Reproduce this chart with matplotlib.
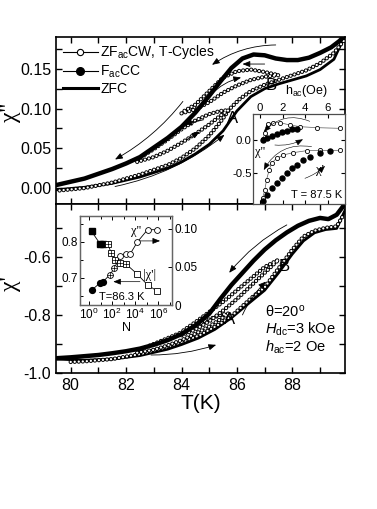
import matplotlib
matplotlib.use('Agg')
import matplotlib.pyplot as plt
from matplotlib.lines import Line2D
from matplotlib.ticker import MultipleLocator, FixedLocator, LogLocator, NullFormatter, FuncFormatter

plt.rcParams['font.family'] = ['Liberation Sans', 'DejaVu Sans']
plt.rcParams['mathtext.fontset'] = 'custom'
plt.rcParams['mathtext.rm'] = 'Liberation Sans'
plt.rcParams['mathtext.it'] = 'Liberation Sans:italic'
plt.rcParams['lines.scale_dashes'] = False

# ---------------- data: chi'' (top panel) ----------------
T_fc2 = [79.5, 80.0, 80.5, 81.0, 81.5, 82.0, 82.5, 83.0, 83.5, 84.0, 84.5, 85.0, 85.4, 85.8,
         86.2, 86.6, 87.0, 87.4, 87.8, 88.2, 88.6, 89.0, 89.4, 89.7, 89.9]
chi2_fc = [0.004, 0.008, 0.012, 0.018, 0.024, 0.031, 0.039, 0.051, 0.063, 0.077, 0.095, 0.116,
           0.134, 0.151, 0.163, 0.168, 0.167, 0.163, 0.161, 0.161, 0.164, 0.170, 0.177, 0.185, 0.192]

T_zfc2 = [79.5, 80.5, 81.5, 82.5, 83.5, 84.0, 84.5, 85.0, 85.5, 86.0, 86.5, 87.0, 87.5, 88.0,
          88.5, 89.0, 89.5, 89.9]
chi2_zfc = [-0.002, 0.001, 0.006, 0.014, 0.025, 0.033, 0.043, 0.055, 0.072, 0.097, 0.115, 0.125,
            0.131, 0.136, 0.141, 0.149, 0.162, 0.192]

T_zfcw2 = [79.6, 80.5, 81.5, 82.5, 83.5, 84.0, 84.5, 85.0, 85.4, 85.75, 86.1, 86.5, 87.0, 87.5,
           88.0, 88.5, 89.0, 89.5, 89.85]
chi2_zfcw = [-0.003, 0.000, 0.007, 0.017, 0.029, 0.038, 0.050, 0.066, 0.083, 0.100, 0.112, 0.122,
             0.130, 0.136, 0.142, 0.148, 0.157, 0.170, 0.185]

T_loopA = [82.4, 83.0, 83.5, 84.0, 84.5, 85.0, 85.4, 85.7, 85.4, 85.0, 84.5, 84.0, 83.5, 83.0, 82.4]
chi2_loopA = [0.033, 0.039, 0.047, 0.057, 0.068, 0.080, 0.091, 0.098, 0.097, 0.093, 0.085, 0.074,
              0.061, 0.049, 0.036]
T_loopB = [84.0, 84.5, 85.0, 85.5, 86.0, 86.5, 87.0, 87.5, 87.0, 86.5, 86.0, 85.5, 85.0, 84.5, 84.0]
chi2_loopB = [0.094, 0.099, 0.108, 0.120, 0.129, 0.136, 0.140, 0.142, 0.146, 0.149, 0.147, 0.139,
              0.122, 0.105, 0.095]

# ---------------- data: chi' (bottom panel) ----------------
T_fc1 = [79.5, 80.0, 80.5, 81.0, 81.5, 82.0, 82.5, 83.0, 83.5, 84.0, 84.5, 85.0, 85.4, 85.8,
         86.2, 86.6, 87.0, 87.4, 87.8, 88.2, 88.6, 89.0, 89.3, 89.6, 89.8, 89.9]
chi1_fc = [-0.949, -0.946, -0.942, -0.938, -0.932, -0.925, -0.916, -0.903, -0.887, -0.866, -0.836,
           -0.796, -0.745, -0.697, -0.655, -0.613, -0.575, -0.543, -0.516, -0.493, -0.476, -0.466,
           -0.470, -0.455, -0.430, -0.415]

T_zfc1 = [79.5, 80.5, 81.5, 82.5, 83.5, 84.0, 84.6, 85.2, 85.8, 86.4, 87.0, 87.5, 88.0, 88.4,
          88.8, 89.2, 89.6, 89.9]
chi1_zfc = [-0.952, -0.956, -0.952, -0.940, -0.918, -0.902, -0.880, -0.850, -0.810, -0.762,
            -0.715, -0.655, -0.590, -0.545, -0.517, -0.506, -0.502, -0.440]

T_zfcw1 = [80.0, 80.5, 81.5, 82.5, 83.5, 84.0, 84.65, 85.4, 85.85, 86.6, 87.0, 87.5, 88.0, 88.4,
           88.8, 89.2, 89.6, 89.85]
chi1_zfcw = [-0.962, -0.960, -0.952, -0.935, -0.910, -0.893, -0.870, -0.830, -0.800, -0.735,
             -0.705, -0.640, -0.575, -0.530, -0.510, -0.500, -0.495, -0.455]

chi1_loopA = [-0.930, -0.920, -0.905, -0.887, -0.865, -0.840, -0.815, -0.795, -0.800, -0.815,
              -0.838, -0.860, -0.880, -0.900, -0.922]
chi1_loopB = [-0.870, -0.850, -0.822, -0.785, -0.745, -0.700, -0.655, -0.610, -0.635, -0.675,
              -0.715, -0.755, -0.790, -0.825, -0.858]

# ---------------- inset 1: h_ac sweeps at 87.5 K ----------------
h_open2 = [0.24, 0.44, 0.74, 1.18, 1.77, 2.65, 3.53, 5.0, 7.06]
chi2_hopen = [0.01, 0.10, 0.235, 0.26, 0.26, 0.225, 0.20, 0.185, 0.175]
h_fill2 = [0.24, 0.59, 1.03, 1.47, 1.91, 2.35, 2.8, 3.24]
chi2_hfill = [0.0, 0.025, 0.06, 0.09, 0.115, 0.14, 0.16, 0.17]
h_open1 = [0.24, 0.44, 0.59, 0.82, 1.03, 1.47, 2.06, 2.94, 4.12, 5.3, 7.06]
chi1_hopen = [-0.875, -0.75, -0.60, -0.45, -0.35, -0.275, -0.225, -0.19, -0.16, -0.155, -0.155]
h_fill1 = [0.24, 0.59, 1.03, 1.47, 1.91, 2.35, 2.8, 3.24, 3.8, 4.4, 5.3, 6.18]
chi1_hfill = [-0.92, -0.825, -0.725, -0.65, -0.575, -0.50, -0.425, -0.375, -0.30, -0.25, -0.20, -0.16]

# ---------------- inset 2: vs number of cycles N at 86.3 K ----------------
N_sq_fill = [1.7, 9, 15]
absc1_sq_fill = [0.829, 0.795, 0.795]
N_sq_cross = [45, 82, 182, 500, 1600]
absc1_sq_cross = [0.795, 0.769, 0.750, 0.742, 0.739]
N_sq_open = [1.5e4, 1.26e5, 8e5]
absc1_sq_open = [0.711, 0.680, 0.664]
N_ci_fill = [1.7, 9, 15]
c2_ci_fill = [0.0194, 0.029, 0.030]
N_ci_cross = [67, 160]
c2_ci_cross = [0.040, 0.0486]
N_ci_open = [500, 1600, 3700, 1.6e4, 1.2e5, 8.7e5]
c2_ci_open = [0.064, 0.067, 0.067, 0.083, 0.099, 0.099]

W, H = 377, 509
fig = plt.figure(figsize=(W / 100, H / 100), dpi=100)


def box(l, t, r, b):
    return [l / W, (H - b) / H, (r - l) / W, (b - t) / H]


ax_top = fig.add_axes(box(56, 37, 345, 204))
ax_bot = fig.add_axes(box(56, 204, 345, 373), sharex=ax_top)

GAP = 2.9
CHI_FONT = ['Liberation Serif', 'DejaVu Serif']


def open_dots(ax, x, y, z=3):
    ax.plot(x, y, color='k', lw=3.1, linestyle=(0, (0.01, GAP)), dash_capstyle='round', zorder=z)
    ax.plot(x, y, color='w', lw=1.7, linestyle=(0, (0.01, GAP)), dash_capstyle='round', zorder=z)


def arrow(ax, tail, head, rad=0.0, lw=0.6, coords='data'):
    ax.annotate('', xy=head, xytext=tail, xycoords=coords, textcoords=coords,
                arrowprops=dict(arrowstyle='-|>,head_length=0.45,head_width=0.18', lw=lw, color='k',
                                connectionstyle='arc3,rad=%g' % rad, shrinkA=0, shrinkB=0))


# ---- top panel ----
ax_top.plot(T_zfc2, chi2_zfc, color='k', lw=2.0, zorder=2)
ax_top.plot(T_fc2, chi2_fc, color='k', lw=3.2, solid_capstyle='round', zorder=4)
open_dots(ax_top, T_zfcw2, chi2_zfcw)
open_dots(ax_top, T_loopA, chi2_loopA)
open_dots(ax_top, T_loopB, chi2_loopB)

arrow(ax_top, (87.4, 0.180), (85.1, 0.155), rad=0.15)
arrow(ax_top, (84.05, 0.109), (81.6, 0.036), rad=-0.1)
arrow(ax_top, (87.0, 0.156), (86.2, 0.156))
arrow(ax_top, (85.05, 0.117), (86.15, 0.139), rad=-0.15)
arrow(ax_top, (84.8, 0.086), (84.1, 0.080))
arrow(ax_top, (84.2, 0.061), (84.65, 0.071))
arrow(ax_top, (81.6, 0.002), (85.55, 0.067), rad=0.12)
ax_top.text(85.85, 0.088, 'A', fontsize=12, ha='center', va='center')
ax_top.text(87.25, 0.129, 'B', fontsize=12, ha='center', va='center')

ax_top.set_xlim(79.47, 89.9)
ax_top.set_ylim(-0.02, 0.19)
ax_top.yaxis.set_major_locator(FixedLocator([0.0, 0.05, 0.10, 0.15]))
ax_top.yaxis.set_major_formatter(FuncFormatter(lambda v, p: '%.2f' % v))
ax_top.yaxis.set_minor_locator(MultipleLocator(0.025))
ax_top.set_ylabel("χ''", fontsize=17, family=CHI_FONT)
ax_top.yaxis.set_label_coords(-0.12, 0.55)
plt.setp(ax_top.get_xticklabels(), visible=False)

handles = [Line2D([], [], color='k', lw=0.8, marker='o', ms=4.5, mfc='w', mec='k', mew=0.8),
           Line2D([], [], color='k', lw=0.8, marker='o', ms=5.5, mfc='k', mec='k'),
           Line2D([], [], color='k', lw=2.2)]
ax_top.legend(handles, ['ZF$_{\\rm ac}$CW, T-Cycles', 'F$_{\\rm ac}$CC', 'ZFC'],
              loc='upper left', bbox_to_anchor=(-0.01, 1.02), frameon=False, fontsize=10,
              handlelength=2.5, handletextpad=0.2, labelspacing=0.15, borderaxespad=0.3)

# ---- bottom panel ----
ax_bot.plot(T_zfc1, chi1_zfc, color='k', lw=2.0, zorder=2)
ax_bot.plot(T_fc1, chi1_fc, color='k', lw=3.2, solid_capstyle='round', zorder=4)
open_dots(ax_bot, T_zfcw1, chi1_zfcw)
open_dots(ax_bot, T_loopA, chi1_loopA)
open_dots(ax_bot, T_loopB, chi1_loopB)

arrow(ax_bot, (87.8, -0.490), (85.72, -0.655), rad=0.1)
arrow(ax_bot, (86.2, -0.800), (87.05, -0.685), rad=-0.1)
arrow(ax_bot, (82.9, -0.938), (85.25, -0.903), rad=0.08)
ax_bot.text(85.75, -0.817, 'A', fontsize=12, ha='center', va='center')
ax_bot.text(87.7, -0.633, 'B', fontsize=12, ha='center', va='center')
ax_bot.text(87.0, -0.787, 'θ=20$^{\\rm o}$', fontsize=10.5, ha='left', va='center')
ax_bot.text(87.0, -0.850, '$H_{\\rm dc}$=3 kOe', fontsize=10.5, ha='left', va='center')
ax_bot.text(87.0, -0.912, '$h_{\\rm ac}$=2 Oe', fontsize=10.5, ha='left', va='center')

ax_bot.set_ylim(-1.0, -0.418)
ax_bot.yaxis.set_major_locator(FixedLocator([-1.0, -0.8, -0.6]))
ax_bot.yaxis.set_major_formatter(FuncFormatter(lambda v, p: '%.1f' % v))
ax_bot.yaxis.set_minor_locator(MultipleLocator(0.1))
ax_bot.xaxis.set_major_locator(MultipleLocator(2))
ax_bot.xaxis.set_minor_locator(MultipleLocator(1))
ax_bot.set_ylabel("χ'", fontsize=17, family=CHI_FONT)
ax_bot.yaxis.set_label_coords(-0.12, 0.53)
ax_bot.set_xlabel('T(K)', fontsize=15, labelpad=1)

for ax in (ax_top, ax_bot):
    ax.tick_params(which='both', direction='in', top=True, right=True, labelsize=11.5, width=1.0)
    ax.tick_params(which='major', length=4.5)
    ax.tick_params(which='minor', length=4.5)
    for s in ax.spines.values():
        s.set_linewidth(1.2)

# ---- inset 1 ----
ai = fig.add_axes(box(253, 114, 345, 204))
ai.set_facecolor('w')
ai.set_zorder(10)
ai.plot(h_open2, chi2_hopen, color='0.35', lw=0.5)
ai.plot(h_open2, chi2_hopen, 'o', ms=3.0, mfc='w', mec='k', mew=0.6)
ai.plot(h_fill2, chi2_hfill, 'o', ms=3.6, mfc='k', mec='k')
ai.plot(h_open1, chi1_hopen, color='0.35', lw=0.5)
ai.plot(h_open1, chi1_hopen, 'o', ms=3.0, mfc='w', mec='k', mew=0.6)
ai.plot(h_fill1, chi1_hfill, 'o', ms=3.6, mfc='k', mec='k')
arrow(ai, (4.4, 0.28), (0.35, 0.12), rad=0.35, lw=0.4)
arrow(ai, (1.32, -0.075), (3.8, 0.01), rad=0.15, lw=0.4)
arrow(ai, (4.56, -0.10), (0.35, -0.45), rad=0.35, lw=0.4)
arrow(ai, (3.97, -0.575), (5.74, -0.39), rad=0.1, lw=0.4)
ai.text(0.0, -0.18, "χ''", fontsize=9, ha='center', va='center', family=CHI_FONT)
ai.text(5.3, -0.45, "χ'", fontsize=9, ha='center', va='center', family=CHI_FONT)
ai.text(5.0, -0.83, 'T = 87.5 K', fontsize=8, ha='center', va='center')
ai.set_xlim(-0.6, 7.5)
ai.set_ylim(-0.96, 0.39)
ai.xaxis.set_major_locator(MultipleLocator(2))
ai.yaxis.set_major_locator(FixedLocator([-0.5, 0.0]))
ai.yaxis.set_major_formatter(FuncFormatter(lambda v, p: '%.1f' % v))
ai.xaxis.tick_top()
ai.set_xlabel('h$_{\\rm ac}$(Oe)', fontsize=9)
ai.xaxis.set_label_position('top')
ai.xaxis.set_label_coords(0.58, 1.17)
ai.xaxis.label.set_va('bottom')
ai.tick_params(which='both', direction='in', top=True, bottom=True, left=True, right=True,
               labelsize=8.2, length=3, width=0.8, pad=1.0, labelbottom=False, labeltop=True)
for s in ai.spines.values():
    s.set_linewidth(0.9)
    s.set_color('0.3')

# ---- inset 2 ----
aj = fig.add_axes(box(80, 216, 172, 305))
aj.set_zorder(10)
aj.set_facecolor('w')
aj.set_xscale('log')
aj.plot(N_sq_fill + N_sq_cross + N_sq_open, absc1_sq_fill + absc1_sq_cross + absc1_sq_open,
        color='k', lw=0.6, zorder=1)
aj.plot(N_sq_fill, absc1_sq_fill, 's', ms=4, mfc='k', mec='k', zorder=3)
aj.plot(N_sq_cross, absc1_sq_cross, 's', ms=4, mfc='w', mec='k', mew=0.6, zorder=3)
aj.plot(N_sq_cross, absc1_sq_cross, '+', ms=4, mec='k', mew=0.5, zorder=4)
aj.plot(N_sq_open, absc1_sq_open, 's', ms=4, mfc='w', mec='k', mew=0.6, zorder=3)
aj.set_xlim(10 ** -0.78, 10 ** 7.2)
aj.set_ylim(0.625, 0.872)
aj.yaxis.set_major_locator(FixedLocator([0.7, 0.8]))
aj.yaxis.set_minor_locator(FixedLocator([0.65, 0.75, 0.85]))
aj.xaxis.set_major_locator(FixedLocator([1, 1e2, 1e4, 1e6]))
aj.xaxis.set_minor_locator(FixedLocator([1e1, 1e3, 1e5, 1e7]))
aj.xaxis.set_minor_formatter(NullFormatter())
aj.set_xlabel('N', fontsize=9, labelpad=0)
ak = aj.twinx()
ak.plot(N_ci_fill + N_ci_cross + N_ci_open, c2_ci_fill + c2_ci_cross + c2_ci_open,
        color='k', lw=0.6, zorder=1)
ak.plot(N_ci_fill, c2_ci_fill, 'o', ms=4.2, mfc='k', mec='k', zorder=3)
ak.plot(N_ci_cross, c2_ci_cross, 'o', ms=4.2, mfc='w', mec='k', mew=0.6, zorder=3)
ak.plot(N_ci_cross, c2_ci_cross, '+', ms=4.2, mec='k', mew=0.5, zorder=4)
ak.plot(N_ci_open, c2_ci_open, 'o', ms=4.2, mfc='w', mec='k', mew=0.6, zorder=3)
ak.set_ylim(0, 0.117)
ak.yaxis.set_major_locator(FixedLocator([0, 0.05, 0.10]))
ak.yaxis.set_major_formatter(FuncFormatter(lambda v, p: '0' if v == 0 else '%.2f' % v))
arrow(aj, (0.634, 0.72), (0.87, 0.72), lw=0.5, coords='axes fraction')
arrow(aj, (0.652, 0.262), (0.362, 0.262), lw=0.5, coords='axes fraction')
aj.text(0.61, 0.83, "χ''", fontsize=9, ha='center', va='center', transform=aj.transAxes,
        family=CHI_FONT)
aj.text(0.76, 0.34, "|χ'|", fontsize=9, ha='center', va='center', transform=aj.transAxes,
        family=CHI_FONT)
aj.text(0.45, 0.09, 'T=86.3 K', fontsize=8, ha='center', va='center', transform=aj.transAxes)
for a in (aj, ak):
    a.tick_params(which='both', direction='in', labelsize=8.5, width=0.7, pad=1.5)
    a.tick_params(which='major', length=3)
    a.tick_params(which='minor', length=2)
    for s in a.spines.values():
        s.set_linewidth(0.9)
        s.set_color('0.4')
aj.tick_params(which='both', top=True)

fig.savefig('out.png', dpi=100)
